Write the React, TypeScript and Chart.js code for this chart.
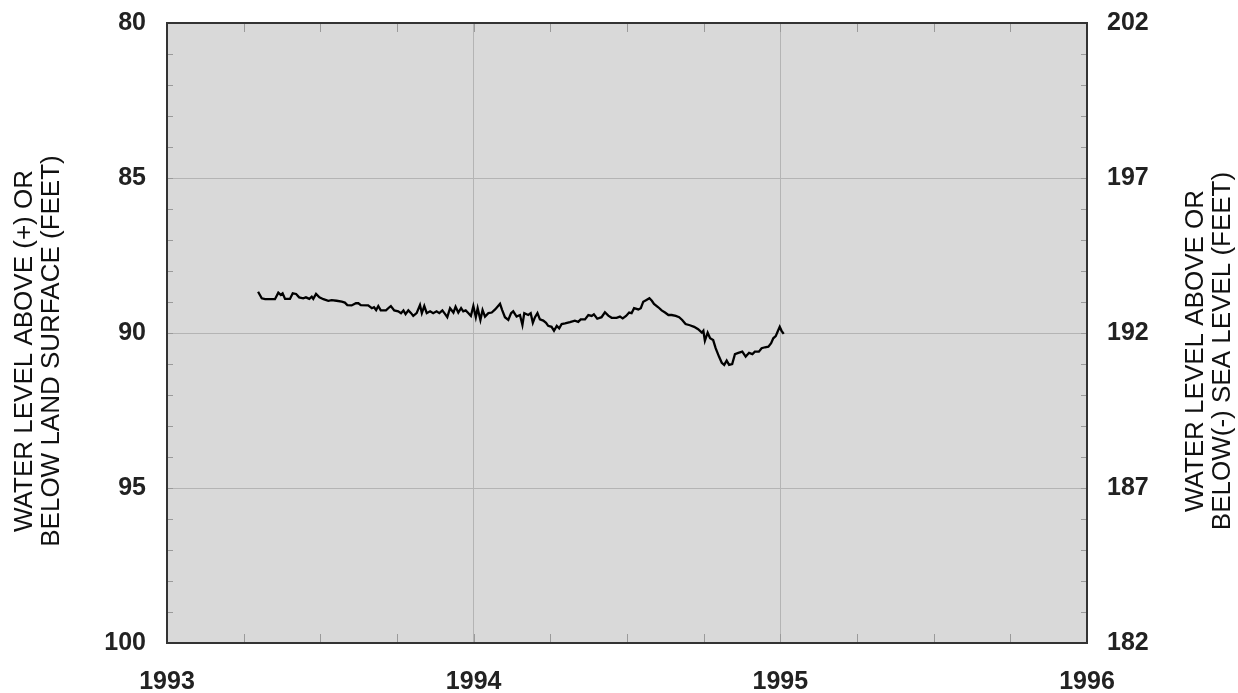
import React, { useEffect, useRef } from "react";
import { Chart, registerables } from "chart.js";

Chart.register(...registerables);

// Decimal years of the readings
const YEARS: number[] = [
  1993.297, 1993.309, 1993.320, 1993.352, 1993.363, 1993.371, 1993.377, 1993.385, 1993.401, 1993.410,
  1993.421, 1993.431, 1993.444, 1993.453, 1993.464, 1993.472, 1993.477, 1993.486, 1993.497, 1993.510,
  1993.526, 1993.537, 1993.553, 1993.570, 1993.580, 1993.588, 1993.602, 1993.616, 1993.624, 1993.632,
  1993.656, 1993.668, 1993.675, 1993.682, 1993.689, 1993.697, 1993.714, 1993.725,
  1993.730, 1993.741, 1993.754, 1993.763, 1993.771, 1993.778, 1993.787, 1993.796, 1993.803, 1993.814,
  1993.825, 1993.831, 1993.839, 1993.847, 1993.858, 1993.868, 1993.879, 1993.888, 1993.898, 1993.907,
  1993.914, 1993.923, 1993.934, 1993.941, 1993.950, 1993.959, 1993.966, 1993.974, 1993.983, 1993.991,
  1993.999, 1994.007, 1994.013, 1994.022, 1994.029, 1994.037, 1994.048, 1994.059, 1994.070, 1994.086,
  1994.093, 1994.102, 1994.113, 1994.122, 1994.129, 1994.140, 1994.151, 1994.159, 1994.165,
  1994.178, 1994.186, 1994.193, 1994.200, 1994.208, 1994.216, 1994.227, 1994.236, 1994.243, 1994.254,
  1994.262, 1994.271, 1994.279, 1994.287, 1994.298, 1994.314, 1994.330, 1994.341, 1994.349, 1994.363,
  1994.374, 1994.385, 1994.392, 1994.403, 1994.417, 1994.428, 1994.439, 1994.450, 1994.466, 1994.477,
  1994.486, 1994.497, 1994.507, 1994.515, 1994.523, 1994.537, 1994.545, 1994.553, 1994.562, 1994.573,
  1994.581, 1994.588,
  1994.602, 1994.613, 1994.624, 1994.635, 1994.646, 1994.659, 1994.670, 1994.680, 1994.691, 1994.705,
  1994.719, 1994.732, 1994.744, 1994.749, 1994.754, 1994.763, 1994.771, 1994.781, 1994.789, 1994.800,
  1994.809, 1994.817, 1994.825, 1994.833, 1994.843, 1994.852, 1994.863, 1994.876, 1994.887, 1994.898,
  1994.909, 1994.917, 1994.930, 1994.939, 1994.950, 1994.961, 1994.970, 1994.977, 1994.985, 1994.991,
  1994.998, 1995.004, 1995.011,
];

// Water level below land surface, feet
const LEVELS: number[] = [
  88.67, 88.88, 88.91, 88.91, 88.70, 88.77, 88.72, 88.90, 88.90, 88.72,
  88.74, 88.85, 88.88, 88.85, 88.90, 88.83, 88.90, 88.74, 88.85, 88.91,
  88.96, 88.94, 88.96, 88.99, 89.02, 89.10, 89.11, 89.04, 89.04, 89.10,
  89.11, 89.20, 89.17, 89.26, 89.13, 89.27, 89.27, 89.17,
  89.13, 89.27, 89.30, 89.36, 89.27, 89.39, 89.27, 89.36, 89.45, 89.36,
  89.10, 89.36, 89.13, 89.36, 89.30, 89.36, 89.30, 89.36, 89.27, 89.39,
  89.49, 89.20, 89.34, 89.15, 89.34, 89.20, 89.30, 89.27, 89.36, 89.45,
  89.13, 89.49, 89.20, 89.58, 89.26, 89.47, 89.36, 89.34, 89.24, 89.06,
  89.26, 89.49, 89.58, 89.36, 89.30, 89.47, 89.42, 89.74, 89.36,
  89.42, 89.36, 89.67, 89.49, 89.36, 89.56, 89.60, 89.67, 89.77, 89.80,
  89.93, 89.77, 89.85, 89.71, 89.69, 89.65, 89.60, 89.64, 89.56, 89.56,
  89.42, 89.45, 89.40, 89.54, 89.49, 89.33, 89.44, 89.51, 89.51, 89.47,
  89.53, 89.45, 89.34, 89.36, 89.20, 89.24, 89.20, 88.99, 88.94, 88.88,
  88.96, 89.06,
  89.17, 89.27, 89.34, 89.42, 89.42, 89.45, 89.49, 89.58, 89.71, 89.75,
  89.80, 89.88, 89.99, 89.93, 90.25, 89.99, 90.17, 90.23, 90.49, 90.76,
  90.96, 91.03, 90.89, 91.03, 91.00, 90.68, 90.64, 90.60, 90.76, 90.64,
  90.68, 90.60, 90.60, 90.49, 90.46, 90.44, 90.33, 90.17, 90.10, 89.96,
  89.80, 89.93, 90.03,
];

const X_MAJOR_YEARS: number[] = [1993, 1994, 1995, 1996];
const X_MINOR_STEP = 0.25;
const Y_LEFT_TICKS: number[] = [80, 85, 90, 95, 100];
const Y_RIGHT_TICKS: number[] = [182, 187, 192, 197, 202];
const Y_MINOR_STEP = 1;
const LEFT_TITLE: string[] = ["WATER LEVEL ABOVE (+) OR", "BELOW LAND SURFACE (FEET)"];
const RIGHT_TITLE: string[] = ["WATER LEVEL ABOVE OR", "BELOW(-) SEA LEVEL (FEET)"];

const FONT_FAMILY = "'Liberation Sans', Arial, Helvetica, sans-serif";

const framePlugin = {
  id: "frame",
  beforeDraw(chart: any) {
    const { ctx, chartArea } = chart;
    ctx.save();
    ctx.fillStyle = "#d9d9d9";
    ctx.fillRect(chartArea.left, chartArea.top, chartArea.right - chartArea.left, chartArea.bottom - chartArea.top);
    ctx.restore();
  },
  afterDatasetsDraw(chart: any) {
    const { ctx, chartArea, scales } = chart;
    const xs = scales.x;
    const ys = scales.y;
    ctx.save();
    ctx.strokeStyle = "#9a9a9a";
    ctx.lineWidth = 1;
    for (let v = X_MAJOR_YEARS[0]; v <= X_MAJOR_YEARS[X_MAJOR_YEARS.length - 1] + 1e-9; v += X_MINOR_STEP) {
      const px = Math.round(xs.getPixelForValue(v)) + 0.5;
      ctx.beginPath();
      ctx.moveTo(px, chartArea.top);
      ctx.lineTo(px, chartArea.top + 9);
      ctx.moveTo(px, chartArea.bottom);
      ctx.lineTo(px, chartArea.bottom - 9);
      ctx.stroke();
    }
    for (let v = Y_LEFT_TICKS[0]; v <= Y_LEFT_TICKS[Y_LEFT_TICKS.length - 1] + 1e-9; v += Y_MINOR_STEP) {
      const py = Math.round(ys.getPixelForValue(v)) + 0.5;
      ctx.beginPath();
      ctx.moveTo(chartArea.left, py);
      ctx.lineTo(chartArea.left + 6, py);
      ctx.moveTo(chartArea.right, py);
      ctx.lineTo(chartArea.right - 6, py);
      ctx.stroke();
    }
    ctx.strokeStyle = "#333333";
    ctx.lineWidth = 2;
    ctx.strokeRect(chartArea.left, chartArea.top, chartArea.right - chartArea.left, chartArea.bottom - chartArea.top);
    ctx.restore();
  },
  afterDraw(chart: any) {
    const { ctx } = chart;
    ctx.save();
    ctx.fillStyle = "#111111";
    ctx.font = `26px ${FONT_FAMILY}`;
    ctx.textAlign = "center";
    ctx.textBaseline = "middle";
    const cy = 351;
    const drawLines = (lines: string[], xs: number[]) => {
      lines.forEach((t, i) => {
        ctx.save();
        ctx.translate(xs[i], cy);
        ctx.rotate(-Math.PI / 2);
        ctx.fillText(t, 0, 0);
        ctx.restore();
      });
    };
    drawLines(LEFT_TITLE, [25, 52]);
    drawLines(RIGHT_TITLE, [1196, 1223]);
    ctx.restore();
  },
};

export default function App() {
  const canvasRef = useRef<HTMLCanvasElement | null>(null);

  useEffect(() => {
    document.body.style.margin = "0";
    const canvas = canvasRef.current;
    if (!canvas) return;
    const tickFont = { family: FONT_FAMILY, size: 25, weight: "bold" as const };
    const chart = new Chart(canvas, {
      type: "line",
      data: {
        datasets: [
          {
            data: YEARS.map((x, i) => ({ x, y: LEVELS[i] })),
            borderColor: "#000000",
            borderWidth: 2.3,
            pointRadius: 0,
            tension: 0,
            fill: false,
          },
        ],
      },
      options: {
        animation: false,
        responsive: false,
        devicePixelRatio: 1,
        layout: { padding: { top: 23, left: 0, right: 0, bottom: 0 } },
        plugins: { legend: { display: false }, tooltip: { enabled: false } },
        scales: {
          x: {
            type: "linear",
            position: "bottom",
            min: X_MAJOR_YEARS[0],
            max: X_MAJOR_YEARS[X_MAJOR_YEARS.length - 1],
            afterBuildTicks: (scale: any) => {
              scale.ticks = X_MAJOR_YEARS.map((v) => ({ value: v }));
            },
            afterFit: (scale: any) => {
              scale.height = 50;
              scale.paddingLeft = 0;
              scale.paddingRight = 0;
            },
            ticks: {
              autoSkip: false,
              maxRotation: 0,
              minRotation: 0,
              padding: 24,
              color: "#222222",
              font: tickFont,
              callback: (v: any) => String(v),
            },
            grid: { color: "#b4b4b4", lineWidth: 1, drawTicks: false },
            border: { display: false },
          },
          y: {
            type: "linear",
            position: "left",
            reverse: true,
            min: Y_LEFT_TICKS[0],
            max: Y_LEFT_TICKS[Y_LEFT_TICKS.length - 1],
            afterBuildTicks: (scale: any) => {
              scale.ticks = Y_LEFT_TICKS.map((v) => ({ value: v }));
            },
            afterFit: (scale: any) => {
              scale.width = 167;
              scale.paddingTop = 0;
              scale.paddingBottom = 0;
            },
            ticks: { padding: 21, color: "#222222", font: tickFont, callback: (v: any) => String(v) },
            grid: { color: "#b4b4b4", lineWidth: 1, drawTicks: false },
            border: { display: false },
          },
          y2: {
            type: "linear",
            position: "right",
            min: Y_RIGHT_TICKS[0],
            max: Y_RIGHT_TICKS[Y_RIGHT_TICKS.length - 1],
            afterBuildTicks: (scale: any) => {
              scale.ticks = Y_RIGHT_TICKS.map((v) => ({ value: v }));
            },
            afterFit: (scale: any) => {
              scale.width = 151;
              scale.paddingTop = 0;
              scale.paddingBottom = 0;
            },
            ticks: { padding: 20, color: "#222222", font: tickFont, callback: (v: any) => String(v) },
            grid: { display: false, drawTicks: false },
            border: { display: false },
          },
        },
      } as any,
      plugins: [framePlugin],
    });
    return () => chart.destroy();
  }, []);

  return (
    <div style={{ position: "absolute", left: 0, top: 0, width: 1238, height: 693 }}>
      <canvas ref={canvasRef} width={1238} height={693} style={{ width: 1238, height: 693, display: "block" }} />
    </div>
  );
}
